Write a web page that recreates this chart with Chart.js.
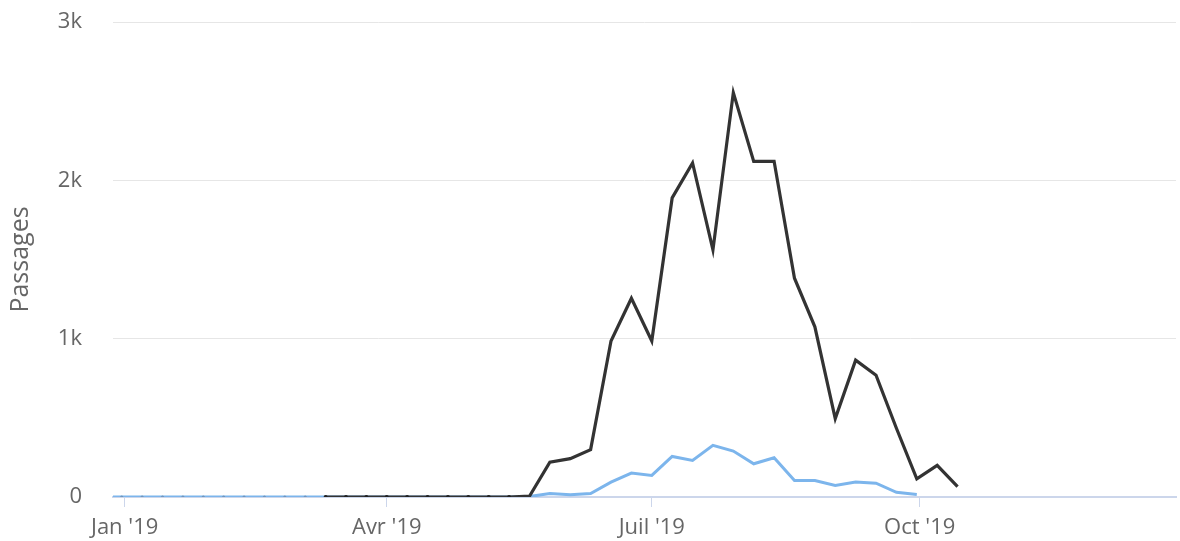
<!DOCTYPE html>
<html>
<head>
<meta charset="utf-8">
<script src="https://cdn.jsdelivr.net/npm/chart.js@4"></script>
<style>
  html, body { margin: 0; padding: 0; background: #ffffff; }
  #wrap { width: 1180px; height: 541px; }
</style>
</head>
<body>
<div id="wrap"><canvas id="c" width="1180" height="541"></canvas></div>
<script>
// ---- Data (weekly, week start dates) ----
const blueWeeks = [
  '2018-12-24','2018-12-31','2019-01-07','2019-01-14','2019-01-21','2019-01-28',
  '2019-02-04','2019-02-11','2019-02-18','2019-02-25','2019-03-04','2019-03-11',
  '2019-03-18','2019-03-25','2019-04-01','2019-04-08','2019-04-15','2019-04-22',
  '2019-04-29','2019-05-06','2019-05-13','2019-05-20','2019-05-27','2019-06-03',
  '2019-06-10','2019-06-17','2019-06-24','2019-07-01','2019-07-08','2019-07-15',
  '2019-07-22','2019-07-29','2019-08-05','2019-08-12','2019-08-19','2019-08-26',
  '2019-09-02','2019-09-09','2019-09-16','2019-09-23','2019-09-30'
];
const blueValues = [
  0, 0, 0, 0, 0, 0,
  0, 0, 0, 0, 0, 0,
  0, 0, 0, 0, 0, 0,
  0, 0, 0, 3, 22, 15,
  22, 94, 151, 136, 256, 231,
  326, 290, 210, 248, 104, 104,
  73, 94, 87, 30, 16
];
const blackWeeks = [
  '2019-03-11','2019-03-18','2019-03-25','2019-04-01','2019-04-08','2019-04-15',
  '2019-04-22','2019-04-29','2019-05-06','2019-05-13','2019-05-20','2019-05-27',
  '2019-06-03','2019-06-10','2019-06-17','2019-06-24','2019-07-01','2019-07-08',
  '2019-07-15','2019-07-22','2019-07-29','2019-08-05','2019-08-12','2019-08-19',
  '2019-08-26','2019-09-02','2019-09-09','2019-09-16','2019-09-23','2019-09-30',
  '2019-10-07','2019-10-14'
];
const blackValues = [
  0, 0, 0, 0, 0, 0,
  0, 0, 0, 0, 5, 220,
  242, 299, 985, 1255, 985, 1889,
  2110, 1561, 2554, 2120, 2120, 1382,
  1075, 495, 864, 769, 434, 115,
  200, 66
];
const xTickDates = ['2019-01-01','2019-04-01','2019-07-01','2019-10-01'];
const xTickLabels = ["Jan '19", "Avr '19", "Juil '19", "Oct '19"];
const yTickValues = [0, 1000, 2000, 3000];
const yTickLabels = ['0', '1k', '2k', '3k'];
const xRangeDates = ['2018-12-28', '2019-12-28'];

// ---- helpers: days since 2019-01-01 ----
const DAY = 86400000;
const origin = Date.UTC(2019, 0, 1);
function dayOf(s) {
  const [y, m, d] = s.split('-').map(Number);
  return (Date.UTC(y, m - 1, d) - origin) / DAY;
}
const toPoints = (weeks, vals) => weeks.map((w, i) => ({ x: dayOf(w), y: vals[i] }));
const xTicks = xTickDates.map(dayOf);

const FONT = "'Open Sans', 'DejaVu Sans', sans-serif";
const TXT = '#666666';

new Chart(document.getElementById('c'), {
  type: 'line',
  data: {
    datasets: [
      {
        label: 'Série 1',
        data: toPoints(blueWeeks, blueValues),
        borderColor: '#7cb5ec',
        borderWidth: 3,
        pointRadius: ctx => (ctx.raw && ctx.raw.y === 0 ? 1.6 : 0),
        pointBackgroundColor: '#6f95bd',
        pointBorderWidth: 0,
        tension: 0,
        order: 2
      },
      {
        label: 'Série 2',
        data: toPoints(blackWeeks, blackValues),
        borderColor: '#333333',
        borderWidth: 3.2,
        pointRadius: ctx => (ctx.raw && ctx.raw.y === 0 ? 2 : 0),
        pointBackgroundColor: '#222222',
        pointBorderWidth: 0,
        tension: 0,
        order: 1
      }
    ]
  },
  options: {
    responsive: false,
    devicePixelRatio: 1,
    animation: false,
    layout: { padding: { top: 22, right: -6, bottom: 0, left: 0 } },
    plugins: { legend: { display: false }, tooltip: { enabled: false } },
    scales: {
      x: {
        type: 'linear',
        min: dayOf(xRangeDates[0]),
        max: dayOf(xRangeDates[1]),
        afterBuildTicks: s => { s.ticks = xTicks.map(v => ({ value: v })); },
        afterFit: s => { s.height = 44; s.paddingLeft = 0; s.paddingRight = 0; },
        grid: { drawOnChartArea: false, drawTicks: true, tickLength: 10, color: '#ccd6eb', lineWidth: 1 },
        border: { display: true, color: '#ccd6eb', width: 2 },
        ticks: {
          autoSkip: false,
          maxRotation: 0,
          padding: 8,
          color: TXT,
          font: { family: FONT, size: 22 },
          callback: (v, i) => xTickLabels[i]
        }
      },
      y: {
        min: 0,
        max: 3000,
        afterBuildTicks: s => { s.ticks = yTickValues.map(v => ({ value: v })); },
        afterFit: s => { s.width = 113; s.paddingTop = 0; s.paddingBottom = 0; },
        grid: { color: '#e6e6e6', lineWidth: 1, drawTicks: true, tickLength: 31, tickColor: 'rgba(0,0,0,0)' },
        border: { display: false },
        title: {
          display: true,
          text: 'Passages',
          color: TXT,
          font: { family: FONT, size: 25 },
          padding: { top: 6, bottom: 0 }
        },
        ticks: {
          padding: 0,
          color: TXT,
          font: { family: FONT, size: 22 },
          callback: (v, i) => yTickLabels[i]
        }
      }
    }
  }
});
</script>
</body>
</html>
